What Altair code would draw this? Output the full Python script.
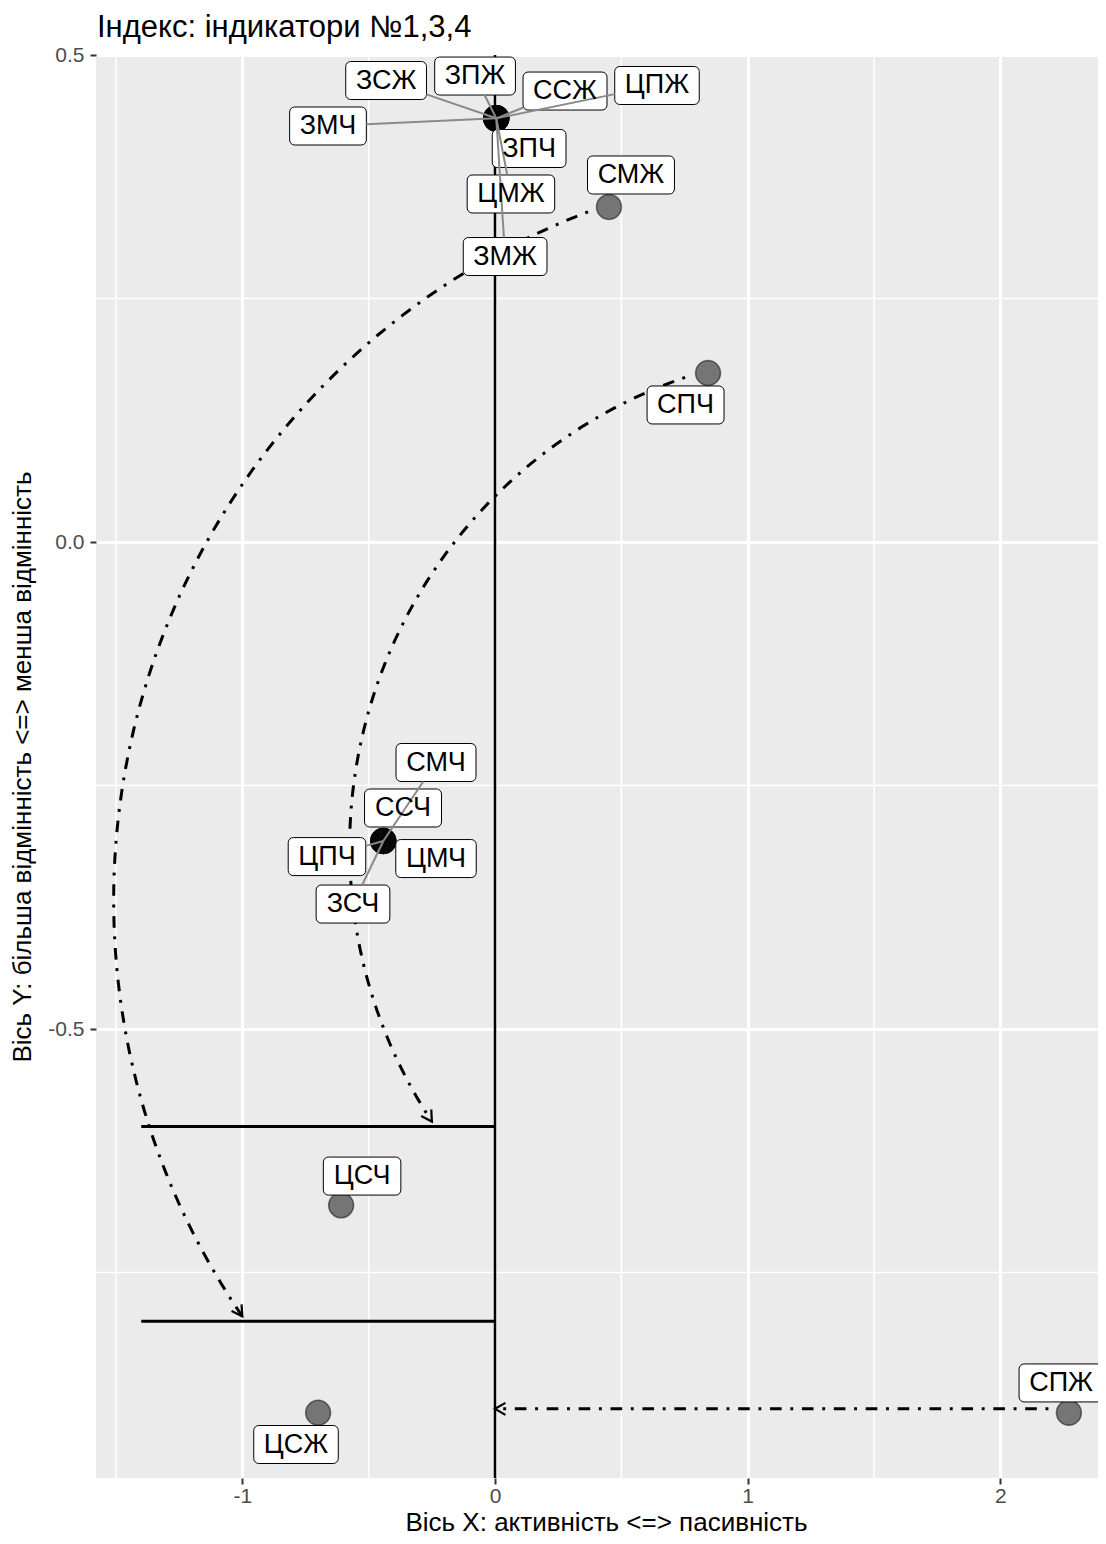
import math
import altair as alt
import pandas as pd

FONT = "Liberation Sans"

title_text = "Індекс: індикатори №1,3,4"
x_title = "Вісь X: активність <=> пасивність"
y_title = "Вісь Y: більша відмінність <=> менша відмінність"

# ---- data -------------------------------------------------------------
names = ["ЗСЖ", "ЗПЖ", "ССЖ", "ЦПЖ", "ЗМЧ", "ЗПЧ", "ЦМЖ", "ЗМЖ",
         "СМЖ", "СМЧ", "ССЧ", "ЦПЧ", "ЦМЧ", "ЗСЧ", "СПЧ", "ЦСЧ", "ЦСЖ", "СПЖ"]
pt_x = [0.005, 0.005, 0.005, 0.005, 0.005, 0.005, 0.005, 0.005,
        0.451, -0.442, -0.442, -0.442, -0.442, -0.442, 0.843, -0.609, -0.700, 2.271]
pt_y = [0.435, 0.435, 0.435, 0.435, 0.435, 0.435, 0.435, 0.435,
        0.344, -0.307, -0.307, -0.307, -0.307, -0.307, 0.1735, -0.681, -0.894, -0.894]
# label positions (as placed by the repel algorithm in the original)
lab_x = [-0.431, -0.079, 0.277, 0.641, -0.661, 0.135, 0.063, 0.040,
         0.538, -0.2335, -0.364, -0.665, -0.2335, -0.562, 0.754, -0.526, -0.7875, 2.24]
lab_y = [0.4738, 0.4784, 0.463, 0.4687, 0.4271, 0.404, 0.3573, 0.2931,
         0.3768, -0.2264, -0.2731, -0.323, -0.325, -0.3717, 0.1407, -0.651, -0.9266, -0.8634]

# curved arrows
arrow_x0 = [0.368, 0.752, 2.19]
arrow_y0 = [0.339, 0.169, -0.890]
arrow_x1 = [-1.0, -0.25, 0.0]
arrow_y1 = [-0.795, -0.595, -0.890]
arrow_curv = [0.485, 0.49, 0.0]

# reference lines
hline_y = [-0.6, -0.8]
hline_x0 = [-1.4, -1.4]
hline_x1 = [0.0, 0.0]
vline_x = [0.0]

x_major = [-1, 0, 1, 2]
x_minor = [-1.5, -0.5, 0.5, 1.5]
y_major = [-0.5, 0.0, 0.5]
y_minor = [-0.75, -0.25, 0.25]

# ---- geometry ---------------------------------------------------------
W, H = 1002, 1423
PX_X = 252.7
PX_Y = 974.0
XMIN = -1.579
XMAX = XMIN + W / PX_X
YMAX = 0.5
YMIN = YMAX - H / PX_Y


def to_px(x, y):
    return (x - XMIN) * PX_X, (YMAX - y) * PX_Y


def to_data(px, py):
    return px / PX_X + XMIN, YMAX - py / PX_Y


LABEL_FS = 27
GLYPH_EM = {"З": 0.60, "С": 0.72, "Ж": 0.93, "П": 0.72, "М": 0.83, "Ч": 0.67, "Ц": 0.74}
PAD_X = 10
BOX_H = 38


def box_w(txt):
    return sum(GLYPH_EM.get(ch, 0.6) for ch in txt) * LABEL_FS + 2 * PAD_X


labels = pd.DataFrame({"name": names, "px": pt_x, "py": pt_y, "lx": lab_x, "ly": lab_y})
labels["hw"] = labels["name"].map(box_w) / 2.0
labels["bx0"] = labels["lx"] - labels["hw"] / PX_X
labels["bx1"] = labels["lx"] + labels["hw"] / PX_X
labels["by0"] = labels["ly"] - (BOX_H / 2) / PX_Y
labels["by1"] = labels["ly"] + (BOX_H / 2) / PX_Y

# connector segments from point to label box edge
seg_rows = []
for _, r in labels.iterrows():
    ppx, ppy = to_px(r.px, r.py)
    lpx, lpy = to_px(r.lx, r.ly)
    vx, vy = ppx - lpx, ppy - lpy
    tx = r.hw / abs(vx) if abs(vx) > 1e-9 else 1e9
    ty = (BOX_H / 2) / abs(vy) if abs(vy) > 1e-9 else 1e9
    t = min(tx, ty)
    if t >= 1:
        continue
    ex, ey = lpx + vx * t, lpy + vy * t
    if math.hypot(ppx - ex, ppy - ey) < 17:
        continue
    dx, dy = to_data(ex, ey)
    seg_rows.append({"x": r.px, "y": r.py, "x2": dx, "y2": dy})
segs = pd.DataFrame(seg_rows)

# geom_curve-like arcs (computed in pixel space)
curve_rows = []
head_rows = []
for i in range(len(arrow_x0)):
    sx, sy = to_px(arrow_x0[i], arrow_y0[i])
    ex, ey = to_px(arrow_x1[i], arrow_y1[i])
    c = arrow_curv[i]
    dx, dy = ex - sx, ey - sy
    L = math.hypot(dx, dy)
    ux, uy = dx / L, dy / L
    nx, ny = -uy, ux
    pts = []
    if c == 0:
        pts = [(sx, sy), (ex, ey)]
    else:
        a = L / 2
        s = c * a
        R = (a * a + s * s) / (2 * s)
        mx, my = (sx + ex) / 2, (sy + ey) / 2
        n = 90
        for k in range(n + 1):
            u = -a + 2 * a * k / n
            h = math.sqrt(max(R * R - u * u, 0)) - (R - s)
            pts.append((mx + ux * u + nx * h, my + uy * u + ny * h))
    for k, (qx, qy) in enumerate(pts):
        dxx, dyy = to_data(qx, qy)
        curve_rows.append({"id": i, "o": k, "x": dxx, "y": dyy})
    # open arrow head
    (p1x, p1y), (p2x, p2y) = pts[-2], pts[-1]
    tl = math.hypot(p2x - p1x, p2y - p1y)
    tx, ty = (p2x - p1x) / tl, (p2y - p1y) / tl
    hl = 12
    ang = math.radians(30)
    barbs = []
    for sgn in (1, -1):
        ca, sa = math.cos(sgn * ang), math.sin(sgn * ang)
        rx = tx * ca - ty * sa
        ry = tx * sa + ty * ca
        barbs.append((p2x - hl * rx, p2y - hl * ry))
    for k, (qx, qy) in enumerate([barbs[0], (p2x, p2y), barbs[1]]):
        dxx, dyy = to_data(qx, qy)
        head_rows.append({"id": i, "o": k, "x": dxx, "y": dyy})
curves = pd.DataFrame(curve_rows)
heads = pd.DataFrame(head_rows)

# ---- chart ------------------------------------------------------------
xscale = alt.Scale(domain=[XMIN, XMAX], nice=False, zero=False)
yscale = alt.Scale(domain=[YMIN, YMAX], nice=False, zero=False)
xaxis = alt.Axis(values=x_major, title=x_title, labelExpr="'' + datum.value",
                 titleX=510, titleY=44, titleBaseline="middle",
                 grid=True, tickSize=6, labelPadding=1)
yaxis = alt.Axis(values=y_major, title=y_title,
                 labelExpr="datum.value == 0 ? '0.0' : '' + datum.value",
                 titleX=-74, titleY=H / 2, titleAngle=270, titleBaseline="middle",
                 titleAlign="center", grid=True, tickSize=6, labelPadding=6)


def X(f):
    return alt.X(f, type="quantitative", scale=xscale, axis=xaxis)


def Y(f):
    return alt.Y(f, type="quantitative", scale=yscale, axis=yaxis)


minor_x = alt.Chart(pd.DataFrame({"v": x_minor})).mark_rule(
    color="white", strokeWidth=1.5).encode(x=X("v"))
minor_y = alt.Chart(pd.DataFrame({"v": y_minor})).mark_rule(
    color="white", strokeWidth=1.5).encode(y=Y("v"))

vline = alt.Chart(pd.DataFrame({"v": vline_x})).mark_rule(
    color="black", strokeWidth=2.5).encode(x=X("v"))

hlines = alt.Chart(pd.DataFrame({"x0": hline_x0, "x1": hline_x1, "y": hline_y})).mark_rule(
    color="black", strokeWidth=3).encode(x=X("x0"), x2="x1", y=Y("y"))

curve_layer = alt.Chart(curves).mark_line(
    color="black", strokeWidth=3, strokeDash=[2.9, 8.7, 11.6, 8.7], strokeCap="butt"
).encode(x=X("x"), y=Y("y"), detail="id:N", order="o:Q")

head_layer = alt.Chart(heads).mark_line(
    color="black", strokeWidth=2.2
).encode(x=X("x"), y=Y("y"), detail="id:N", order="o:Q")

points = alt.Chart(labels).mark_point(
    shape="circle", filled=True, fill="black", stroke="black",
    fillOpacity=0.5, strokeOpacity=0.5, strokeWidth=1.5, size=620
).encode(x=X("px"), y=Y("py"))

boxes = alt.Chart(labels).mark_rect(
    fill="white", stroke="black", strokeWidth=1, cornerRadius=5
).encode(x=X("bx0"), x2="bx1", y=Y("by0"), y2="by1")

seg_layer = alt.Chart(segs).mark_rule(color="#8a8a8a", strokeWidth=2).encode(
    x=X("x"), y=Y("y"), x2="x2", y2="y2")

texts = alt.Chart(labels).mark_text(
    font=FONT, fontSize=LABEL_FS, color="black", align="center", baseline="middle"
).encode(x=X("lx"), y=Y("ly"), text="name:N")

# plot title (drawn above the panel, left-aligned with it)
title_layer = alt.Chart(pd.DataFrame({"t": [title_text]})).mark_text(
    font=FONT, fontSize=31, color="black", align="left", baseline="alphabetic"
).encode(text="t:N", x=alt.value(1), y=alt.value(-18))

chart = alt.layer(
    minor_x, minor_y, vline, hlines, curve_layer, head_layer,
    points, boxes, seg_layer, texts, title_layer
).properties(
    width=W, height=H,
    autosize=alt.AutoSizeParams(type="none"),
    padding={"left": 88, "top": 47, "right": 0, "bottom": 58},
).configure_view(
    fill="#EBEBEB", strokeWidth=0
).configure_axis(
    domain=False, tickColor="#333333", tickWidth=2,
    labelColor="#4D4D4D", labelFontSize=21, labelFont=FONT,
    titleFont=FONT, titleFontSize=26, titleFontWeight="normal", titleColor="black",
    gridColor="white", gridWidth=3
)

chart.save("out.html", embed_options={"renderer": "svg", "actions": False})
